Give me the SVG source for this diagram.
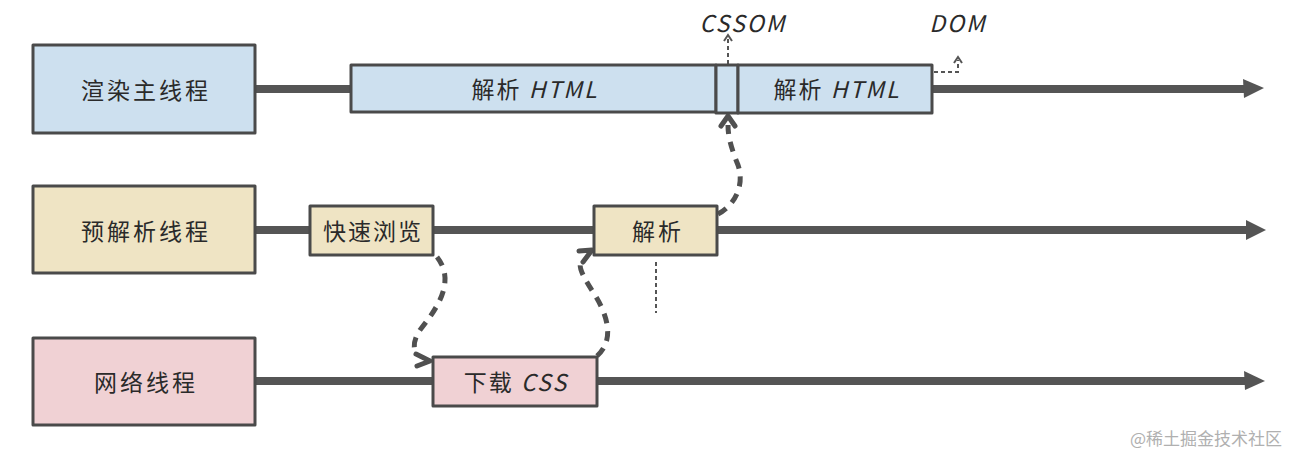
<svg xmlns="http://www.w3.org/2000/svg" width="1290" height="452" viewBox="0 0 1290 452">
<defs>
<style>
.box{stroke:#4a4a4a;stroke-width:3;stroke-linejoin:round}
.blue{fill:#cde0ef}
.tan{fill:#efe4c4}
.pink{fill:#f0d1d4}
.t{font-family:"Noto Sans CJK SC","Noto Sans",sans-serif;font-size:23px;fill:#2a2a2a;text-anchor:middle;dominant-baseline:central;letter-spacing:2px}
.tl{font-family:"Noto Sans CJK SC","Noto Sans",sans-serif;font-size:23px;fill:#2a2a2a;text-anchor:middle;dominant-baseline:central;letter-spacing:3px}
.en{font-style:italic}
.line{stroke:#555;stroke-width:8;fill:none}
.head{fill:#555}
.dash{stroke:#505050;stroke-width:5;fill:none;stroke-dasharray:10 8}
.chev{stroke:#505050;stroke-width:5;fill:none;stroke-linecap:round;stroke-linejoin:round}
.dot{stroke:#555;stroke-width:2;fill:none;stroke-dasharray:4 3}
.dchev{stroke:#555;stroke-width:2;fill:none}
</style>
</defs>
<rect width="1290" height="452" fill="#ffffff"/>
<g id="connectors">
<line class="line" x1="255" y1="89" x2="1246" y2="89"/>
<path class="head" d="M1243,79 L1264,88 L1244,98 Z"/>
<line class="line" x1="255" y1="230" x2="1248" y2="230"/>
<path class="head" d="M1246,220 L1266,230 L1246,240 Z"/>
<line class="line" x1="255" y1="381" x2="1246" y2="381"/>
<path class="head" d="M1244,371 L1265,381 L1245,390 Z"/>
<path class="dash" d="M437,257 C455,280 440,305 420,330 C412,342 414,350 416,352"/>
<path class="chev" d="M416,354 L430,361 L417,366"/>
<path class="dash" d="M597,356 C615,340 608,315 593,292 C580,272 579,266 581,262"/>
<path class="chev" d="M579,251 L592,250 L583,262"/>
<path class="dash" d="M718,214 C735,205 745,185 738,165 C730,145 728,135 728,125"/>
<path class="chev" d="M721,126 L728,116 L735,126"/>
<path class="dot" d="M728,64 L728,38"/>
<path class="dchev" d="M724,41 L728,35 L732,41"/>
<path class="dot" d="M934,72 L958,72 L958,60"/>
<path class="dchev" d="M954,63 L958,57 L962,63"/>
<line class="dot" x1="656" y1="262" x2="656" y2="313"/>
</g>
<g id="n-main">
<rect class="box blue" x="33" y="45" width="222" height="88"/>
<text class="tl" x="146" y="89">渲染主线程</text>
</g>
<g id="n-parse-html-1">
<rect class="box blue" x="351" y="65" width="365" height="47"/>
<text class="t" x="535" y="88">解析 <tspan class="en">HTML</tspan></text>
</g>
<g id="n-cssom-block">
<rect class="box blue" x="716" y="65" width="22" height="48"/>
</g>
<g id="n-parse-html-2">
<rect class="box blue" x="738" y="65" width="194" height="48"/>
<text class="t" x="837" y="88">解析 <tspan class="en">HTML</tspan></text>
</g>
<g id="n-cssom">
<text class="t en" x="743" y="22">CSSOM</text>
</g>
<g id="n-dom">
<text class="t en" x="958" y="22">DOM</text>
</g>
<g id="n-preparse">
<rect class="box tan" x="33" y="186" width="222" height="87"/>
<text class="tl" x="146" y="230">预解析线程</text>
</g>
<g id="n-scan">
<rect class="box tan" x="310" y="206" width="123" height="49"/>
<text class="t" x="373" y="230">快速浏览</text>
</g>
<g id="n-parse">
<rect class="box tan" x="594" y="206" width="123" height="49"/>
<text class="tl" x="658" y="230">解析</text>
</g>
<g id="n-net">
<rect class="box pink" x="33" y="338" width="222" height="87"/>
<text class="tl" x="146" y="381">网络线程</text>
</g>
<g id="n-download">
<rect class="box pink" x="433" y="357" width="164" height="49"/>
<text class="t" x="516" y="381">下载 <tspan class="en">CSS</tspan></text>
</g>
<g id="watermark">
<text x="1206" y="437" font-family="Noto Sans CJK SC,sans-serif" font-size="17" fill="#b0b0b0" text-anchor="middle" dominant-baseline="central">@稀土掘金技术社区</text>
</g>
</svg>
